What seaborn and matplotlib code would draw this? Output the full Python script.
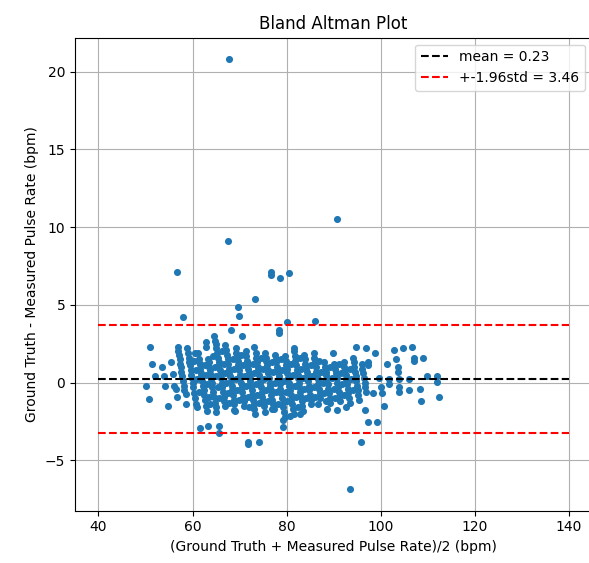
import matplotlib
matplotlib.use("Agg")
import matplotlib.pyplot as plt
import seaborn as sns

# summary values shown in the legend
mean_diff = 0.23
loa = 3.46

# dense part: ground truth value of each slanted stripe and the differences in it
stripe_gt = [58.0, 60.0, 62.1, 64.1, 66.2, 68.2, 70.3, 72.3, 74.4, 76.4,
             78.5, 80.5, 82.6, 84.6, 86.7, 88.7, 90.8, 92.8, 94.9, 96.6]
stripe_diffs = [
    [2.3, 2.0, 1.8, 1.5, 1.2, 1.0, 0.7, 0.4, 0.1, -0.2, -0.5],
    [2.2, 1.9, 1.6, 1.3, 1.1, 0.8, 0.5, 0.3, 0.0, -0.3, -0.7, -1.0, -1.4],
    [1.9, 1.5, 1.2, 0.9, 0.6, 0.4, 0.1, -0.2, -0.5, -0.8, -1.1, -1.5, -1.8],
    [2.6, 2.3, 1.5, 1.3, 1.0, 0.8, 0.5, 0.2, 0.0, -0.3, -0.6, -0.9, -1.3, -1.6, -1.9],
    [2.5, 2.2, 1.9, 1.6, 1.3, 1.1, 0.8, 0.5, 0.3, 0.0, -0.3, -0.6, -0.9, -1.2, -1.5],
    [2.4, 2.1, 1.8, 1.5, 1.2, 0.9, 0.7, 0.4, 0.1, -0.2, -0.5, -0.8, -1.1, -1.4, -1.8],
    [2.2, 1.9, 1.6, 1.4, 1.1, 0.8, 0.5, 0.3, 0.0, -0.3, -0.6, -0.9, -1.2, -1.5],
    [2.0, 1.7, 1.4, 1.2, 0.9, 0.6, 0.3, 0.1, -0.2, -0.5, -0.8, -1.1, -1.4, -1.7, -2.0],
    [1.9, 1.6, 1.3, 1.0, 0.8, 0.5, 0.2, 0.0, -0.3, -0.6, -0.9, -1.2, -1.5, -1.9],
    [1.9, 1.6, 1.4, 1.1, 0.8, 0.6, 0.3, 0.0, -0.2, -0.5, -0.8, -1.1, -1.4, -1.7],
    [1.8, 1.5, 1.3, 1.0, 0.7, 0.4, 0.2, -0.1, -0.4, -0.7, -1.0, -1.3, -1.6, -1.9, -2.2],
    [1.7, 1.4, 1.1, 0.9, 0.6, 0.3, 0.0, -0.2, -0.5, -0.8, -1.1, -1.4, -1.7, -2.0],
    [2.2, 2.0, 1.7, 1.4, 1.1, 0.8, 0.5, 0.3, 0.0, -0.3, -0.6, -0.9, -1.2, -1.5, -1.8],
    [1.8, 1.5, 1.2, 0.9, 0.7, 0.4, 0.1, -0.2, -0.5, -0.8, -1.1, -1.4],
    [1.9, 1.6, 1.3, 1.0, 0.7, 0.5, 0.2, -0.1, -0.4, -0.7, -1.0],
    [1.3, 1.0, 0.7, 0.5, 0.2, -0.1, -0.4, -0.7, -1.0, -1.3],
    [1.9, 1.2, 0.9, 0.6, 0.3, 0.0, -0.3, -0.6, -0.9, -1.2],
    [1.3, 1.0, 0.8, 0.5, 0.2, -0.1, -0.4, -0.7, -1.0, -1.3],
    [1.6, 1.3, 1.0, 0.7, 0.4, 0.1, -0.2, -0.5, -0.8, -1.1],
    [1.2, 0.9, 0.6, 0.3, 0.0, -0.3, -0.6],
]

# thinner stripes lying between the main ones
mid_gt = [61.1, 63.1, 65.2, 67.2, 69.3, 71.3, 73.4, 75.4, 77.5, 79.5,
          81.6, 83.6, 85.7, 87.7, 89.8, 91.8, 93.9]
mid_diffs = [
    [1.4, 0.8, 0.2, -0.6],
    [1.1, 0.5, -0.1, -0.9, -1.4],
    [1.7, 1.0, 0.4, -0.3, -1.0],
    [2.0, 1.2, 0.6, 0.0, -0.7, -1.3],
    [1.5, 0.9, 0.2, -0.5, -1.1],
    [1.8, 1.1, 0.4, -0.2, -0.9, -1.6],
    [1.2, 0.6, -0.1, -0.8, -1.3],
    [1.6, 0.9, 0.2, -0.5, -1.2],
    [1.3, 0.7, 0.0, -0.6, -1.4],
    [1.5, 0.8, 0.1, -0.6, -1.2],
    [1.2, 0.5, -0.2, -0.9, -1.6],
    [1.6, 0.9, 0.3, -0.4, -1.0],
    [1.1, 0.4, -0.3, -0.9],
    [1.4, 0.7, 0.0, -0.7, -1.2],
    [1.0, 0.3, -0.4, -1.0],
    [1.2, 0.6, -0.1, -0.8],
    [0.9, 0.2, -0.5],
]

# sparse points and outliers (mean, difference)
extra_avg = [67.8, 90.8, 67.5, 56.7, 76.6, 76.6, 78.7, 80.5, 73.3, 69.6, 69.9, 57.9, 80.1, 86.0,
             68.2, 78.4, 78.4, 70.6, 64.5, 64.8, 73.0, 94.7, 96.9, 98.9, 102.8, 104.8, 106.7,
             107.2, 107.2, 109.0, 109.9, 111.9, 111.9, 112.5, 108.5, 108.3, 101.3, 103.3, 103.7,
             103.7, 101.9, 101.9, 104.0, 104.0, 104.0, 106.1, 106.1, 100.7, 99.7, 100.1, 100.4,
             98.4, 97.3, 97.3, 96.7, 97.3, 99.2, 95.8, 93.5, 71.9, 71.9, 74.1, 61.5, 63.4, 65.6,
             65.7, 68.8, 76.9, 79.3, 79.3, 80.8, 82.9, 86.7, 88.7, 90.8, 92.7,
             50.1, 50.7, 51.0, 51.4, 52.1, 53.6, 53.9, 54.1, 54.8, 55.4, 55.9, 56.1, 56.4, 56.7,
             58.6, 58.7, 61.0, 60.5, 61.6]
extra_diff = [20.8, 10.5, 9.1, 7.1, 7.1, 6.9, 6.75, 7.05, 5.4, 4.85, 4.3, 4.2, 3.9, 3.95,
              3.4, 3.35, 3.2, 3.0, 3.0, 2.7, 2.3, 2.3, 2.2, 1.9, 2.1, 2.2, 2.3,
              1.6, 1.4, 1.6, 0.4, 0.4, 0.05, -0.95, -1.2, -0.4, 1.2, 1.5, 1.0,
              0.7, 0.2, -0.1, 0.2, -0.3, -0.6, 0.2, -0.5, -1.5, 0.3, -0.3, -0.65,
              -0.65, 1.3, 1.1, -1.75, -2.55, -2.55, -3.8, -6.85, -3.95, -3.8, -3.8, -2.9, -2.8, -2.8,
              -3.25, -1.75, -1.7, -2.4, -2.85, -2.15, -2.0, -1.4, -1.7, -1.75, -1.6,
              -0.2, -1.05, 2.3, 1.2, 0.45, 1.0, 0.4, -0.2, -1.5, 1.3, 0.55, -0.25, -0.4, -0.95,
              -0.75, -1.4, -1.6, 1.9, 1.2]

# mean of ground truth and measured = gt - diff/2
avg = list(extra_avg)
diff = list(extra_diff)
for g, ds in zip(stripe_gt + mid_gt, stripe_diffs + mid_diffs):
    for d in ds:
        avg.append(g - d / 2)
        diff.append(d)

fig = plt.figure(figsize=(5.89, 5.63), dpi=100)
ax = fig.add_axes([0.1273, 0.0931, 0.878, 0.84])

sns.scatterplot(x=avg, y=diff, s=26, color="#1f77b4", linewidth=0, ax=ax)

ax.hlines(mean_diff, 40, 140, colors="black", linestyles="--", label="mean = %.2f" % mean_diff)
ax.hlines([mean_diff + loa, mean_diff - loa], 40, 140, colors="red", linestyles="--",
          label="+-1.96std = %.2f" % loa)

ax.set_title("Bland Altman Plot")
ax.set_xlabel("(Ground Truth + Measured Pulse Rate)/2 (bpm)")
ax.set_ylabel("Ground Truth - Measured Pulse Rate (bpm)")
ax.set_xticks([40, 60, 80, 100, 120, 140])
ax.grid(True)
ax.set_axisbelow(True)
ax.legend(loc="upper right")

fig.savefig("out.png", dpi=100)
